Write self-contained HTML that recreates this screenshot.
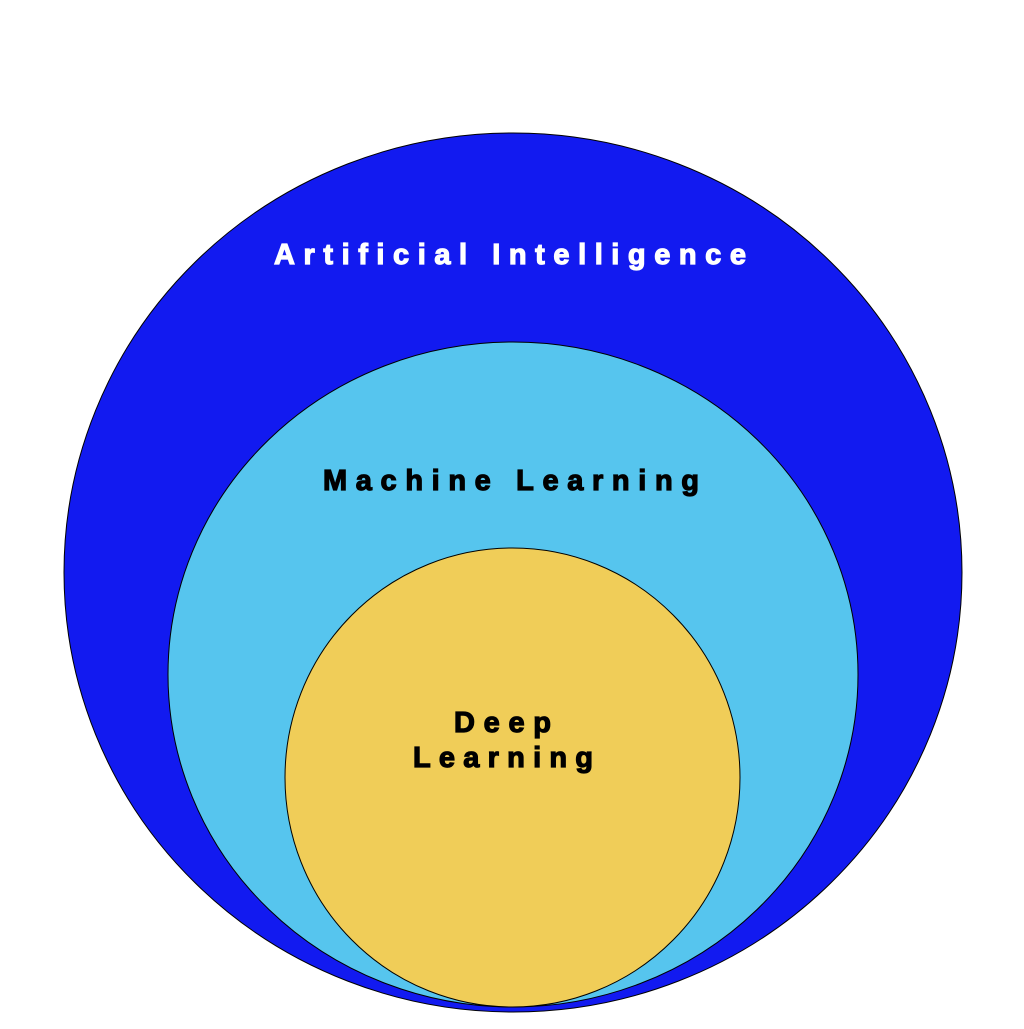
<!DOCTYPE html>
<html><head><style>html,body{margin:0;padding:0;background:#fff}</style></head>
<body>
<svg width="1024" height="1024" viewBox="0 0 1024 1024" xmlns="http://www.w3.org/2000/svg">
<rect width="1024" height="1024" fill="#fff"/>
<ellipse cx="513" cy="572.5" rx="449" ry="439.5" fill="#121AF0" stroke="#000" stroke-width="1"/>
<ellipse cx="513" cy="674.5" rx="345" ry="332.5" fill="#56C5EE" stroke="#000" stroke-width="1"/>
<ellipse cx="512.5" cy="777.5" rx="227.5" ry="229.5" fill="#F0CD58" stroke="#000" stroke-width="1"/>
<g font-family="Liberation Sans, sans-serif" font-weight="bold" font-size="29">
<text x="274" y="264" fill="#fff" stroke="#fff" stroke-width="1.2" textLength="472" lengthAdjust="spacing">Artificial Intelligence</text>
<text x="323" y="490" fill="#000" stroke="#000" stroke-width="1.2" textLength="376" lengthAdjust="spacing">Machine Learning</text>
<text x="454" y="732" fill="#000" stroke="#000" stroke-width="1.2" textLength="97" lengthAdjust="spacing">Deep</text>
<text x="413" y="767" fill="#000" stroke="#000" stroke-width="1.2" textLength="180" lengthAdjust="spacing">Learning</text>
</g>
</svg>
</body></html>
